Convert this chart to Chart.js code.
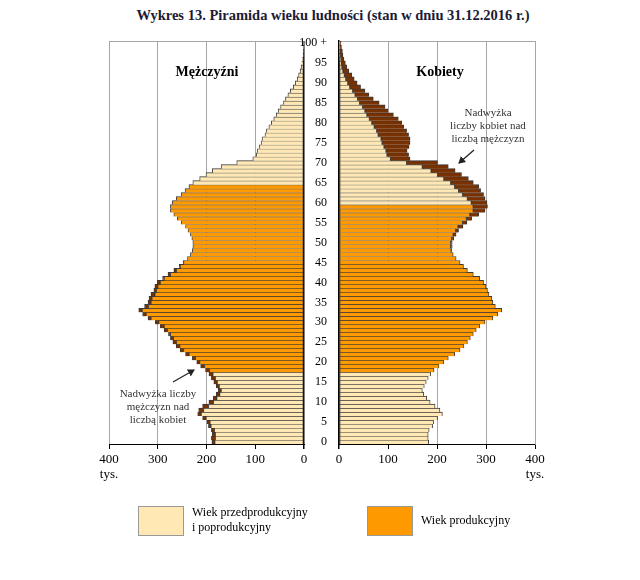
<!DOCTYPE html>
<html lang="pl">
<head>
    <meta charset="UTF-8">
    <title>Piramida wieku ludności 2016</title>
    <script src="https://cdn.jsdelivr.net/npm/chart.js"></script>
    <style>
        body { margin: 0; background: #fff; }
        #wrap { position: relative; width: 640px; height: 580px; font-family: 'Liberation Serif', 'Times New Roman', serif; color: #000; }
        canvas { position: absolute; top: 0; }
        .txt { position: absolute; white-space: nowrap; }
        #title { left: 333px; top: 7px; transform: translateX(-50%); font-weight: bold; font-size: 14.5px; color: #1b1b35; }
        .side { font-weight: bold; font-size: 14px; top: 64px; transform: translateX(-50%); }
        .note { font-size: 11px; line-height: 13px; text-align: center; color: #333; transform: translateX(-50%); }
        .box { position: absolute; width: 44px; height: 28px; border: 1px solid #999; top: 506px; }
        .leg { font-size: 12px; line-height: 15px; }
    </style>
</head>
<body>
<div id="wrap">
    <div class="txt" id="title">Wykres 13. Piramida wieku ludności (stan w dniu 31.12.2016 r.)</div>

    <canvas id="menChart" width="320" height="500" style="left:0; width:320px; height:500px;"></canvas>
    <canvas id="womenChart" width="350" height="500" style="left:290px; width:350px; height:500px;"></canvas>

    <div class="txt side" style="left:207px;">Mężczyźni</div>
    <div class="txt side" style="left:440px;">Kobiety</div>

    <div class="txt note" style="left:488px; top:106px;">Nadwyżka<br>liczby kobiet nad<br>liczbą mężczyzn</div>
    <div class="txt note" style="left:158px; top:387px;">Nadwyżka liczby<br>mężczyzn nad<br>liczbą kobiet</div>

    <svg style="position:absolute; left:0; top:0;" width="640" height="580">
        <defs>
            <marker id="ah" markerWidth="8" markerHeight="8" refX="6" refY="4" orient="auto" markerUnits="userSpaceOnUse">
                <path d="M0,0 L7,4 L0,8 z" fill="#222"/>
            </marker>
        </defs>
        <line x1="474" y1="150" x2="459" y2="163" stroke="#222" stroke-width="1.3" marker-end="url(#ah)"/>
        <line x1="173" y1="382" x2="194" y2="370" stroke="#222" stroke-width="1.3" marker-end="url(#ah)"/>
    </svg>

    <div class="box" style="left:138px; background:#FFE8B4;"></div>
    <div class="txt leg" style="left:192px; top:505px;">Wiek przedprodukcyjny<br>i poprodukcyjny</div>
    <div class="box" style="left:367px; background:#FF9900;"></div>
    <div class="txt leg" style="left:421px; top:513px;">Wiek produkcyjny</div>
</div>

<script>
    // ages 0..100 (100 = 100 and more)
    const ages = Array.from({ length: 101 }, (_, i) => i);
    const ageLabels = ages.map(a => a === 100 ? '100 +' : String(a));

    // population in thousands
    const men = [
        189, 190, 188, 190, 196, 199, 208, 218, 216, 208,
        195, 186, 180, 176, 180, 185, 190, 195, 202, 212,
        220, 229, 243, 254, 262, 269, 274, 278, 287, 295,
        305, 320, 331, 339, 327, 320, 318, 314, 308, 306,
        301, 290, 279, 267, 256, 248, 239, 233, 229, 228,
        228, 230, 233, 238, 243, 252, 260, 267, 274, 274,
        270, 262, 252, 244, 236, 228, 214, 201, 188, 170,
        138, 105, 98, 96, 92, 88, 86, 80, 77, 72,
        67, 62, 57, 53, 48, 42, 38, 33, 28, 22,
        18, 14, 11, 8, 6, 4, 3, 2, 1.5, 1, 1
    ];
    const women = [
        183, 182, 182, 184, 191, 193, 201, 211, 206, 196,
        186, 179, 173, 170, 174, 178, 182, 187, 194, 204,
        214, 223, 236, 247, 255, 262, 268, 274, 280, 287,
        298, 314, 324, 332, 319, 314, 312, 306, 303, 300,
        295, 287, 274, 262, 254, 247, 239, 233, 230, 231,
        231, 234, 239, 244, 253, 261, 271, 285, 298, 303,
        302, 298, 295, 289, 285, 274, 264, 250, 237, 223,
        201, 145, 142, 139, 143, 145, 145, 142, 138, 132,
        128, 121, 111, 100, 94, 82, 70, 61, 53, 44,
        37, 31, 26, 20, 16, 13, 10, 8, 7, 5, 4
    ];

    // productive age: men 18-64, women 18-59
    const menWorkAge = [18, 64];
    const womenWorkAge = [18, 59];

    const colLight = '#FFE8B4';
    const colWork = '#FF9900';
    const colExcess = '#7A3100';
    const colEdge = '#383838';
    const serif = "'Liberation Serif', 'Times New Roman', serif";

    const baseVals = ages.map(i => Math.min(men[i], women[i]));
    const menExtra = ages.map(i => Math.max(men[i] - women[i], 0));
    const womenExtra = ages.map(i => Math.max(women[i] - men[i], 0));

    function groupColors(range) {
        return ages.map(a => (a >= range[0] && a <= range[1]) ? colWork : colLight);
    }

    // thin frame line along the top of the plot
    const topFrame = {
        id: 'topFrame',
        beforeDatasetsDraw(chart) {
            const { ctx, chartArea } = chart;
            ctx.save();
            ctx.strokeStyle = '#a6a6a6';
            ctx.lineWidth = 1;
            ctx.beginPath();
            ctx.moveTo(chartArea.left, chartArea.top + 0.5);
            ctx.lineTo(chartArea.right, chartArea.top + 0.5);
            ctx.stroke();
            ctx.restore();
        }
    };

    function barSet(data, colors) {
        return {
            data: data,
            backgroundColor: colors,
            borderColor: colEdge,
            borderWidth: 0.9,
            borderSkipped: 'bottom',
            barPercentage: 1,
            categoryPercentage: 1
        };
    }

    function xScale(reverse) {
        return {
            type: 'linear',
            min: 0,
            max: 400,
            reverse: reverse,
            stacked: true,
            afterFit(scale) { scale.height = 56; },
            ticks: {
                stepSize: 100,
                color: '#000',
                padding: 3,
                maxRotation: 0,
                font: { family: serif, size: 13, lineHeight: 1.15 },
                callback: v => v === 400 ? ['400', 'tys.'] : String(v)
            },
            grid: {
                color: c => (c.tick && c.tick.value === 0) ? '#000' : '#a6a6a6',
                lineWidth: c => (c.tick && c.tick.value === 0) ? 1.5 : 1,
                tickColor: '#000',
                tickLength: 5
            },
            border: { color: '#000', width: 1 }
        };
    }

    new Chart(document.getElementById('menChart'), {
        type: 'bar',
        data: {
            labels: ageLabels,
            datasets: [
                barSet(baseVals, groupColors(menWorkAge)),
                barSet(menExtra, colExcess)
            ]
        },
        options: {
            indexAxis: 'y',
            responsive: false,
            animation: false,
            layout: { padding: { left: 109, right: 16, top: 41, bottom: 0 } },
            plugins: { legend: { display: false }, tooltip: { enabled: false } },
            scales: {
                x: xScale(true),
                y: { reverse: true, stacked: true, display: false }
            }
        },
        plugins: [topFrame]
    });

    new Chart(document.getElementById('womenChart'), {
        type: 'bar',
        data: {
            labels: ageLabels,
            datasets: [
                barSet(baseVals, groupColors(womenWorkAge)),
                barSet(womenExtra, colExcess)
            ]
        },
        options: {
            indexAxis: 'y',
            responsive: false,
            animation: false,
            layout: { padding: { left: 0, right: 105, top: 41, bottom: 0 } },
            plugins: { legend: { display: false }, tooltip: { enabled: false } },
            scales: {
                x: xScale(false),
                y: {
                    reverse: true,
                    stacked: true,
                    afterFit(scale) { scale.width = 49; },
                    ticks: {
                        autoSkip: false,
                        color: '#000',
                        padding: 12,
                        font: { family: serif, size: 12 },
                        callback: (v, i) => i % 5 === 0 ? ageLabels[i] : ''
                    },
                    grid: { drawOnChartArea: false, drawTicks: false },
                    border: { color: '#000', width: 1.5 }
                }
            }
        },
        plugins: [topFrame]
    });
</script>
</body>
</html>
